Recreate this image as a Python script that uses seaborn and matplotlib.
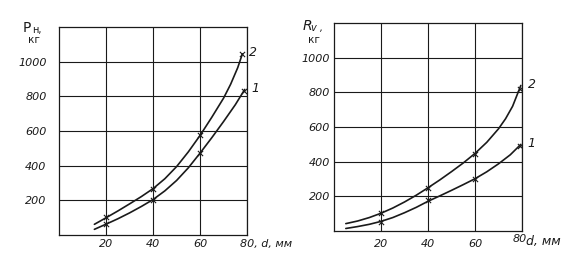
#!/usr/bin/env python3

import matplotlib
matplotlib.use('Agg')
import matplotlib.pyplot as plt
import seaborn as sns

# left chart: P_н, кг against d, мм (curves)
d_left2 = [15, 20, 25, 30, 35, 40, 45, 50, 55, 60, 65, 70, 73, 76, 78]
p_left2 = [62, 100, 139, 180, 222, 268, 325, 395, 480, 575, 680, 790, 870, 965, 1045]
d_left1 = [15, 20, 25, 30, 35, 40, 45, 50, 55, 60, 65, 70, 75, 79]
p_left1 = [33, 63, 94, 128, 165, 205, 255, 315, 388, 473, 562, 655, 752, 840]
mk_d_left2 = [20, 40, 60, 77.7]
mk_p_left2 = [102, 266, 578, 1045]
mk_d_left1 = [20, 40, 60, 78.7]
mk_p_left1 = [63, 205, 473, 830]

# right chart: R_v, кг against d, мм
d_right2 = [5, 10, 15, 20, 25, 30, 35, 40, 45, 50, 55, 60, 65, 70, 73, 76, 79.5]
r_right2 = [43, 58, 78, 103, 133, 168, 207, 250, 295, 343, 393, 448, 512, 590, 648, 720, 840]
d_right1 = [5, 10, 15, 20, 25, 30, 35, 40, 45, 50, 55, 60, 65, 70, 75, 79.5]
r_right1 = [15, 26, 39, 56, 78, 106, 137, 172, 203, 235, 268, 302, 342, 388, 440, 500]
mk_d_right = [20, 40, 60, 79]
mk_r_right2 = [103, 248, 447, 822]
mk_r_right1 = [54, 178, 302, 490]

x_ticks = [20, 40, 60, 80]
y_ticks = [200, 400, 600, 800, 1000]

sns.set_style('white')
ink = '#1a1a1a'

fig = plt.figure(figsize=(5.8, 2.65), dpi=100)
ax1 = fig.add_axes([0.102, 0.113, 0.324, 0.785])
ax2 = fig.add_axes([0.576, 0.128, 0.324, 0.785])

curves = [
    (ax1, [(d_left1, p_left1, mk_d_left1, mk_p_left1, '1'),
           (d_left2, p_left2, mk_d_left2, mk_p_left2, '2')]),
    (ax2, [(d_right1, r_right1, mk_d_right, mk_r_right1, '1'),
           (d_right2, r_right2, mk_d_right, mk_r_right2, '2')]),
]

for ax, series in curves:
    for xs, ys, mx, my, name in series:
        sns.lineplot(x=xs, y=ys, ax=ax, color=ink, linewidth=1.2, sort=False)
        sns.scatterplot(x=mx, y=my, ax=ax, marker='x', s=14, color=ink, linewidth=0.8)
        ax.annotate(name, xy=(xs[-1], ys[-1]), xytext=(5, 1), textcoords='offset points',
                    fontsize=9, fontstyle='italic', color=ink, va='center', ha='left',
                    annotation_clip=False)
    ax.set_xlim(0, 80)
    ax.set_ylim(0, 1200)
    ax.set_xticks(x_ticks)
    ax.set_xticklabels(['20', '40', '60', ''])
    ax.set_yticks(y_ticks)
    ax.set_yticklabels([str(v) for v in y_ticks])
    ax.grid(True, color=ink, linewidth=0.8)
    ax.tick_params(length=0, labelsize=8, colors=ink)
    for lab in ax.get_xticklabels() + ax.get_yticklabels():
        lab.set_fontstyle('italic')
    for sp in ax.spines.values():
        sp.set_color(ink)
        sp.set_linewidth(0.9)

ax1.tick_params(axis='y', pad=9)
ax1.tick_params(axis='x', pad=3)
ax2.tick_params(axis='y', pad=3)
ax2.tick_params(axis='x', pad=6)

ax1.annotate('80, d, мм', xy=(80, 0), xycoords=('data', 'axes fraction'),
             xytext=(-5, -3), textcoords='offset points', ha='left', va='top',
             fontsize=8, fontstyle='italic', color=ink, annotation_clip=False)
ax2.annotate('80', xy=(80, 0), xycoords=('data', 'axes fraction'),
             xytext=(-7, -2), textcoords='offset points', ha='left', va='top',
             fontsize=8, fontstyle='italic', color=ink, annotation_clip=False)
ax2.annotate('d, мм', xy=(80, 0), xycoords=('data', 'axes fraction'),
             xytext=(3, -3), textcoords='offset points', ha='left', va='top',
             fontsize=9, fontstyle='italic', color=ink, annotation_clip=False)

# axis titles in the top-left corners
fig.text(0.039, 0.881, 'P', fontsize=10, color=ink, va='baseline')
fig.text(0.055, 0.877, 'н,', fontsize=7, color=ink, va='baseline')
fig.text(0.058, 0.836, 'кг', fontsize=7.5, color=ink, va='baseline', ha='center')
fig.text(0.521, 0.887, 'R', fontsize=10, fontstyle='italic', color=ink, va='baseline')
fig.text(0.537, 0.884, 'v ,', fontsize=7, fontstyle='italic', color=ink, va='baseline')
fig.text(0.541, 0.839, 'кг', fontsize=7.5, color=ink, va='baseline', ha='center')

plt.savefig('out.png', dpi=100)
